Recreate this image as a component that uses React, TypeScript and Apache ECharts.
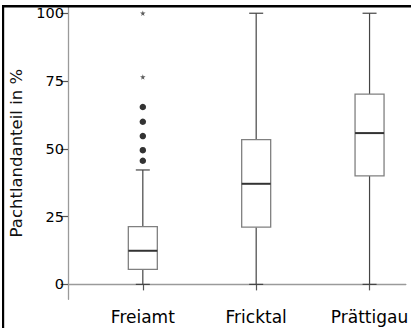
import React, { useEffect, useRef } from "react";
import * as echarts from "echarts";

const categories = ["Freiamt", "Fricktal", "Prättigau"];
const lowWhisker = [0, 0, 0];
const q1 = [5.5, 21.1, 40];
const median = [12.4, 37.1, 55.8];
const q3 = [21.3, 53.4, 70.2];
const highWhisker = [42.2, 100, 100];
const freiamtOutliers = [45.6, 49.5, 54.7, 60, 65.4];
const freiamtExtremes = [76.5, 100];
const yTicks = [0, 25, 50, 75, 100];

const FONT = "'DejaVu Sans', Verdana, sans-serif";

export default function App() {
  const ref = useRef<HTMLDivElement>(null);
  useEffect(() => {
    if (!ref.current) return;
    const chart = echarts.init(ref.current, undefined, { renderer: "svg" });
    const boxData = categories.map((_, i) => [i + 1, lowWhisker[i], q1[i], median[i], q3[i], highWhisker[i]]);
    const option: any = {
      animation: false,
      backgroundColor: "#fff",
      grid: { left: 65.7, top: 7, right: 0, bottom: 28.7 },
      xAxis: {
        type: "value",
        min: 0.34,
        max: 3.32,
        splitLine: { show: false },
        axisLine: { show: true, lineStyle: { color: "#9a9a9a", width: 1.3 } },
        axisTick: { show: true, customValues: [1, 2, 3], length: 6, lineStyle: { color: "#555", width: 1.2 } },
        axisLabel: {
          customValues: [1, 2, 3],
          formatter: (v: number) => categories[Math.round(v) - 1] ?? "",
          fontFamily: FONT,
          fontSize: 17,
          color: "#000",
          margin: 9,
        },
      },
      yAxis: {
        type: "value",
        min: -5.5,
        max: 102.3,
        name: "Pachtlandanteil in %",
        nameLocation: "middle",
        nameGap: 43,
        nameTextStyle: { fontFamily: FONT, fontSize: 16.5, color: "#111" },
        splitLine: { show: false },
        axisLine: { show: true, lineStyle: { color: "#9a9a9a", width: 1.3 } },
        axisTick: { show: true, customValues: yTicks, length: 7.4, lineStyle: { color: "#555", width: 1.2 } },
        axisLabel: {
          customValues: yTicks,
          fontFamily: FONT,
          fontSize: 14.5,
          color: "#000",
          margin: 4,
        },
      },
      series: [
        {
          type: "custom",
          data: boxData,
          renderItem: (params: any, api: any) => {
            const x = api.value(0);
            const pLow = api.coord([x, api.value(1)]);
            const pQ1 = api.coord([x, api.value(2)]);
            const pMed = api.coord([x, api.value(3)]);
            const pQ3 = api.coord([x, api.value(4)]);
            const pHigh = api.coord([x, api.value(5)]);
            const cx = pLow[0];
            const bw = 29;
            const cw = 14;
            const ws = { stroke: "#444", lineWidth: 1.2 };
            return {
              type: "group",
              children: [
                { type: "line", shape: { x1: cx, y1: pLow[1], x2: cx, y2: pQ1[1] }, style: ws },
                { type: "line", shape: { x1: cx, y1: pQ3[1], x2: cx, y2: pHigh[1] }, style: ws },
                { type: "line", shape: { x1: cx - cw / 2, y1: pLow[1], x2: cx + cw / 2, y2: pLow[1] }, style: ws },
                { type: "line", shape: { x1: cx - cw / 2, y1: pHigh[1], x2: cx + cw / 2, y2: pHigh[1] }, style: ws },
                {
                  type: "rect",
                  shape: { x: cx - bw / 2, y: pQ3[1], width: bw, height: pQ1[1] - pQ3[1] },
                  style: { fill: "#fff", stroke: "#808080", lineWidth: 1.3 },
                },
                {
                  type: "line",
                  shape: { x1: cx - bw / 2, y1: pMed[1], x2: cx + bw / 2, y2: pMed[1] },
                  style: { stroke: "#333", lineWidth: 2 },
                },
              ],
            };
          },
        },
        {
          type: "scatter",
          data: freiamtOutliers.map((v) => [1, v]),
          symbol: "circle",
          symbolSize: 6.5,
          itemStyle: { color: "#000" },
        },
        {
          type: "scatter",
          data: freiamtExtremes.map((v) => [1, v]),
          symbol:
            "path://M50,0 L61,35 L98,35 L68,57 L79,91 L50,70 L21,91 L32,57 L2,35 L39,35 Z",
          symbolSize: 5.5,
          itemStyle: { color: "#333" },
        },
      ],
      graphic: [
        { type: "rect", z: 100, shape: { x: 2, y: 5, width: 409, height: 2.4 }, style: { fill: "#000" } },
        { type: "rect", z: 100, shape: { x: 2, y: 5, width: 2.2, height: 323 }, style: { fill: "#000" } },
      ],
    };
    chart.setOption(option);
    return () => chart.dispose();
  }, []);
  return <div ref={ref} style={{ position: "fixed", left: 0, top: 0, width: 411, height: 328 }} />;
}
